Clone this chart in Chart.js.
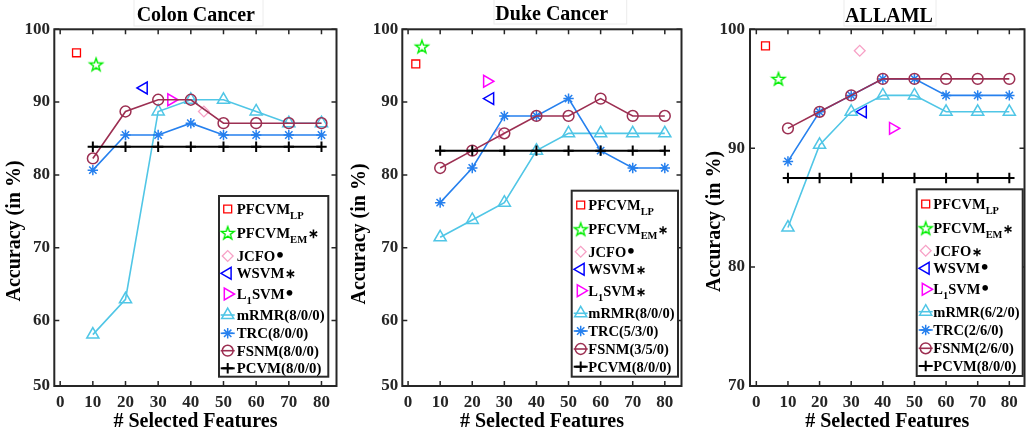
<!DOCTYPE html>
<html><head><meta charset="utf-8">
<script src="https://cdn.jsdelivr.net/npm/chart.js@4.4.1/dist/chart.umd.min.js"></script>
<style>
html,body{margin:0;padding:0;background:#fff;}
#wrap{position:relative;width:1033px;height:435px;overflow:hidden;background:#fff;}
canvas{position:absolute;top:0;}
</style></head><body>
<div id="wrap">
<canvas id="c1" width="345" height="435" style="left:0px"></canvas>
<canvas id="c2" width="345" height="435" style="left:345px"></canvas>
<canvas id="c3" width="343" height="435" style="left:690px"></canvas>
</div>
<script>
// ---------------- data ----------------
const featureCounts = [10, 20, 30, 40, 50, 60, 70, 80];
const xTickLabels = [0, 10, 20, 30, 40, 50, 60, 70, 80];
const yTicksColonDuke = [50, 60, 70, 80, 90, 100];
const yTicksAllaml = [70, 80, 90, 100];
const panelTitles = ['Colon Cancer', 'Duke Cancer', 'ALLAML'];

// single-point methods order: PFCVM_LP, PFCVM_EM, JCFO, WSVM, L1SVM
const colonSingleX = [5, 11, 44, 25.6, 34];
const colonSingleY = [96.77, 95.16, 88.71, 91.94, 90.32];
const colonMRMR = [58.06, 62.90, 88.71, 90.32, 90.32, 88.71, 87.10, 87.10];
const colonTRC  = [80.65, 85.48, 85.48, 87.10, 85.48, 85.48, 85.48, 85.48];
const colonFSNM = [82.26, 88.71, 90.32, 90.32, 87.10, 87.10, 87.10, 87.10];
const colonPCVM = [83.87, 83.87, 83.87, 83.87, 83.87, 83.87, 83.87, 83.87];
const colonLegend = [['PFCVM','LP',''],['PFCVM','EM','\u2217'],['JCFO','','\u2022'],['WSVM','','\u2217'],['L','1','SVM','\u2022'],
  ['mRMR(8/0/0)','',''],['TRC(8/0/0)','',''],['FSNM(8/0/0)','',''],['PCVM(8/0/0)','','']];

const dukeSingleX = [2.4, 4.3, 28.4, 25.6, 24.6];
const dukeSingleY = [95.24, 97.62, 85.71, 90.48, 92.86];
const dukeMRMR = [71.43, 73.81, 76.19, 83.33, 85.71, 85.71, 85.71, 85.71];
const dukeTRC  = [76.19, 80.95, 88.10, 88.10, 90.48, 83.33, 80.95, 80.95];
const dukeFSNM = [80.95, 83.33, 85.71, 88.10, 88.10, 90.48, 88.10, 88.10];
const dukePCVM = [83.33, 83.33, 83.33, 83.33, 83.33, 83.33, 83.33, 83.33];
const dukeLegend = [['PFCVM','LP',''],['PFCVM','EM','\u2217'],['JCFO','','\u2022'],['WSVM','','\u2217'],['L','1','SVM','\u2217'],
  ['mRMR(8/0/0)','',''],['TRC(5/3/0)','',''],['FSNM(3/5/0)','',''],['PCVM(8/0/0)','','']];

const allamlSingleX = [2.9, 7, 32.7, 33.7, 43.2];
const allamlSingleY = [98.61, 95.83, 98.2, 93.06, 91.67];
const allamlMRMR = [83.33, 90.28, 93.06, 94.44, 94.44, 93.06, 93.06, 93.06];
const allamlTRC  = [88.89, 93.06, 94.44, 95.83, 95.83, 94.44, 94.44, 94.44];
const allamlFSNM = [91.67, 93.06, 94.44, 95.83, 95.83, 95.83, 95.83, 95.83];
const allamlPCVM = [87.50, 87.50, 87.50, 87.50, 87.50, 87.50, 87.50, 87.50];
const allamlLegend = [['PFCVM','LP',''],['PFCVM','EM','\u2217'],['JCFO','','\u2217'],['WSVM','','\u2022'],['L','1','SVM','\u2022'],
  ['mRMR(6/2/0)','',''],['TRC(2/6/0)','',''],['FSNM(2/6/0)','',''],['PCVM(8/0/0)','','']];

// ---------------- styles ----------------
const FONT = '"Liberation Serif", "Times New Roman", serif';
Chart.defaults.font.family = FONT;
Chart.defaults.font.weight = 'bold';
Chart.defaults.color = '#262626';

function pentagram(color, R) {
  const s = Math.ceil(R * 2 + 4);
  const c = document.createElement('canvas'); c.width = s; c.height = s;
  const g = c.getContext('2d');
  g.strokeStyle = color; g.lineWidth = 1.4; g.lineJoin = 'miter';
  g.beginPath();
  for (let k = 0; k < 10; k++) {
    const r = k % 2 === 0 ? R : R * 0.4;
    const a = -Math.PI / 2 + k * Math.PI / 5;
    const px = s / 2 + r * Math.cos(a), py = s / 2 + 0.5 + r * Math.sin(a);
    if (k) g.lineTo(px, py); else g.moveTo(px, py);
  }
  g.closePath(); g.stroke();
  return c;
}
const starImg = pentagram('#00ee00', 6.8);

const singleStyles = [
  {label:'PFCVM_LP', style:'rect', color:'#ff0000', r:5.6, rot:0, bw:1.3},
  {label:'PFCVM_EM', style:starImg, color:'#00ee00', r:6, rot:0, bw:1.3},
  {label:'JCFO', style:'rectRot', color:'#f7a1c6', r:5.4, rot:0, bw:1.3},
  {label:'WSVM', style:'triangle', color:'#0000ff', r:6.8, rot:-90, bw:1.5},
  {label:'L1SVM', style:'triangle', color:'#ff00ff', r:6.8, rot:90, bw:1.5}
];
const lineStyles = [
  {label:'mRMR', style:'triangle', color:'#50c6e6', r:7, rot:0, bw:1.5, lw:1.6},
  {label:'TRC', style:'star', color:'#2680ee', r:5.2, rot:0, bw:1.5, lw:1.6},
  {label:'FSNM', style:'circle', color:'#9c2f52', r:5.4, rot:0, bw:1.5, lw:1.6},
  {label:'PCVM', style:'cross', color:'#000000', r:5.2, rot:0, bw:2, lw:2}
];

function buildDatasets(sx, sy, lines) {
  const ds = [];
  singleStyles.forEach((s, i) => {
    ds.push({label: s.label, data: [{x: sx[i], y: sy[i]}], showLine: false,
      borderColor: s.color, backgroundColor: 'transparent', pointStyle: s.style,
      pointRadius: s.r, pointRotation: s.rot, pointBorderColor: s.color,
      pointBackgroundColor: 'transparent', pointBorderWidth: s.bw, clip: false});
  });
  lineStyles.forEach((s, i) => {
    ds.push({label: s.label, data: featureCounts.map((f, k) => ({x: f, y: lines[i][k]})), showLine: true,
      borderColor: s.color, backgroundColor: 'transparent', borderWidth: s.lw, pointStyle: s.style,
      pointRadius: s.r, pointRotation: s.rot, pointBorderColor: s.color,
      pointBackgroundColor: 'transparent', pointBorderWidth: s.bw, clip: false});
  });
  ds.forEach((d, i) => { d.order = ds.length - i; });
  return ds;
}

function drawSuffix(ctx, sym, x, base, fs) {
  if (sym === '\u2022') {
    ctx.font = 'bold ' + (fs * 1.45) + 'px ' + FONT;
    ctx.fillText(sym, x + 1, base + 1);
  } else {
    ctx.font = 'bold ' + (fs * 0.85) + 'px ' + FONT;
    ctx.fillText(sym, x + 1, base);
  }
}

const decorPlugin = {
  id: 'decor',
  afterDraw(chart, args, o) {
    const ctx = chart.ctx, a = chart.chartArea;
    const xs = chart.scales.x, ys = chart.scales.y;
    ctx.save();
    // inward ticks on all four sides
    ctx.strokeStyle = '#262626'; ctx.lineWidth = 1.5;
    ctx.beginPath();
    xs.ticks.forEach(t => {
      const p = xs.getPixelForValue(t.value);
      ctx.moveTo(p, a.bottom); ctx.lineTo(p, a.bottom - 5);
      ctx.moveTo(p, a.top); ctx.lineTo(p, a.top + 5);
    });
    ys.ticks.forEach(t => {
      const p = ys.getPixelForValue(t.value);
      ctx.moveTo(a.left, p); ctx.lineTo(a.left + 5, p);
      ctx.moveTo(a.right, p); ctx.lineTo(a.right - 5, p);
    });
    ctx.stroke();
    ctx.lineWidth = 2;
    ctx.strokeRect(a.left, a.top, a.right - a.left, a.bottom - a.top);

    // legend
    const L = o.legend;
    ctx.fillStyle = '#fff';
    ctx.fillRect(L.x, L.y, L.w, L.h);
    ctx.strokeStyle = '#2a2a2a'; ctx.lineWidth = 2;
    ctx.strokeRect(L.x, L.y, L.w, L.h);
    chart.data.datasets.forEach((d, i) => {
      const y = L.rows[i], mx = L.x + L.mdx;
      if (d.showLine) {
        ctx.strokeStyle = d.borderColor; ctx.lineWidth = d.borderWidth;
        ctx.beginPath(); ctx.moveTo(mx - 7, y); ctx.lineTo(mx + 7, y); ctx.stroke();
      }
      ctx.strokeStyle = d.pointBorderColor; ctx.fillStyle = 'rgba(0,0,0,0)';
      ctx.lineWidth = d.pointBorderWidth;
      Chart.helpers.drawPoint(ctx, {pointStyle: d.pointStyle, rotation: d.pointRotation,
        radius: d.pointRadius, borderWidth: d.pointBorderWidth}, mx, y);
      const parts = L.labels[i];
      ctx.fillStyle = '#000'; ctx.textAlign = 'left'; ctx.textBaseline = 'alphabetic';
      let tx = L.x + L.tdx;
      const base = y + 5;
      ctx.font = 'bold ' + L.fs + 'px ' + FONT;
      ctx.fillText(parts[0], tx, base); tx += ctx.measureText(parts[0]).width;
      if (parts[1]) {
        ctx.font = 'bold ' + (L.fs * 0.72) + 'px ' + FONT;
        ctx.fillText(parts[1], tx, base + 5); tx += ctx.measureText(parts[1]).width;
      }
      if (parts.length > 3) {
        ctx.font = 'bold ' + L.fs + 'px ' + FONT;
        ctx.fillText(parts[2], tx, base); tx += ctx.measureText(parts[2]).width;
        drawSuffix(ctx, parts[3], tx, base, L.fs);
      } else if (parts[2]) {
        drawSuffix(ctx, parts[2], tx, base, L.fs);
      }
    });

    // title with faint frame
    ctx.strokeStyle = '#ececec'; ctx.lineWidth = 1;
    ctx.strokeRect(o.tbox[0], o.tbox[1], o.tbox[2], o.tbox[3]);
    ctx.fillStyle = '#000'; ctx.font = 'bold 20px ' + FONT;
    ctx.textAlign = 'center'; ctx.textBaseline = 'alphabetic';
    ctx.fillText(o.title, o.tx, o.ty);
    // y-axis title
    ctx.translate(o.yx, o.yy); ctx.rotate(-Math.PI / 2);
    ctx.textBaseline = 'middle';
    ctx.fillText('Accuracy (in %)', 0, 0);
    ctx.restore();
  }
};

function makeChart(id, cfg) {
  const yTicks = cfg.yTicks;
  return new Chart(document.getElementById(id), {
    type: 'line',
    data: {datasets: buildDatasets(cfg.sx, cfg.sy, cfg.lines)},
    plugins: [decorPlugin],
    options: {
      responsive: false, animation: false, events: [], devicePixelRatio: 1,
      layout: {padding: {left: 0, right: cfg.padR, top: 29.3, bottom: 0}},
      plugins: {legend: {display: false}, tooltip: {enabled: false},
        decor: {legend: cfg.legend, title: cfg.title, tx: cfg.tx, ty: cfg.ty, tbox: cfg.tbox, yx: cfg.yx, yy: cfg.yy}},
      scales: {
        x: {type: 'linear', min: cfg.xmin, max: cfg.xmax,
          grid: {display: false, drawTicks: false}, border: {display: false},
          afterBuildTicks: s => { s.ticks = xTickLabels.map(v => ({value: v})); },
          afterFit: s => { s.height = 49; },
          ticks: {padding: 6, font: {size: 17, weight: 'bold'}, color: '#262626', maxRotation: 0,
            callback: (v, i) => String(xTickLabels[i])},
          title: {display: true, text: '# Selected Features', color: '#000',
            font: {size: 20, weight: 'bold'}, padding: {top: 0, bottom: 1}}
        },
        y: {type: 'linear', min: cfg.ymin, max: 100,
          grid: {display: false, drawTicks: false}, border: {display: false},
          afterBuildTicks: s => { s.ticks = yTicks.map(v => ({value: Math.max(v, s.min)})); },
          afterFit: s => { s.width = cfg.yW; },
          ticks: {padding: cfg.tickPad, font: {size: 17, weight: 'bold'}, color: '#262626',
            callback: (v, i) => String(yTicks[i])}
        }
      }
    }
  });
}

makeChart('c1', {
  sx: colonSingleX, sy: colonSingleY, lines: [colonMRMR, colonTRC, colonFSNM, colonPCVM],
  yTicks: yTicksColonDuke, ymin: 51, xmin: -1.8, xmax: 84.6, yW: 54.3, padR: 8.3, tickPad: 4.3,
  title: panelTitles[0], tx: 195.8, ty: 20.6, tbox: [134, -1, 129, 27], yx: 14.5, yy: 231,
  legend: {x: 219, y: 196, w: 109.3, h: 180.7, mdx: 8.7, tdx: 17.7, fs: 14.8, labels: colonLegend,
    rows: [209, 233, 256, 273.3, 294, 315, 333.3, 350.7, 368.3]}
});
makeChart('c2', {
  sx: dukeSingleX, sy: dukeSingleY, lines: [dukeMRMR, dukeTRC, dukeFSNM, dukePCVM],
  yTicks: yTicksColonDuke, ymin: 51, xmin: -1.8, xmax: 85.2, yW: 57.3, padR: 4.3, tickPad: 4,
  title: panelTitles[1], tx: 206.7, ty: 20, tbox: [149, -1, 132.7, 25], yx: 14.5, yy: 234,
  legend: {x: 226.7, y: 190.7, w: 106.3, h: 186, mdx: 9, tdx: 16.6, fs: 14.5, labels: dukeLegend,
    rows: [205, 229.3, 251.7, 269.3, 290.7, 313.3, 331, 349, 366.7]}
});
makeChart('c3', {
  sx: allamlSingleX, sy: allamlSingleY, lines: [allamlMRMR, allamlTRC, allamlFSNM, allamlPCVM],
  yTicks: yTicksAllaml, ymin: 70, xmin: -2, xmax: 84.8, yW: 60, padR: 2, tickPad: 5,
  title: panelTitles[2], tx: 199, ty: 21.5, tbox: [154, -1, 92, 27], yx: 24.5, yy: 221.5,
  legend: {x: 226.7, y: 189.3, w: 106, h: 186.7, mdx: 9, tdx: 16.6, fs: 14.5, labels: allamlLegend,
    rows: [204, 228.3, 250.7, 268.3, 289.3, 311.7, 330, 348.3, 366]}
});
</script>
</body></html>
